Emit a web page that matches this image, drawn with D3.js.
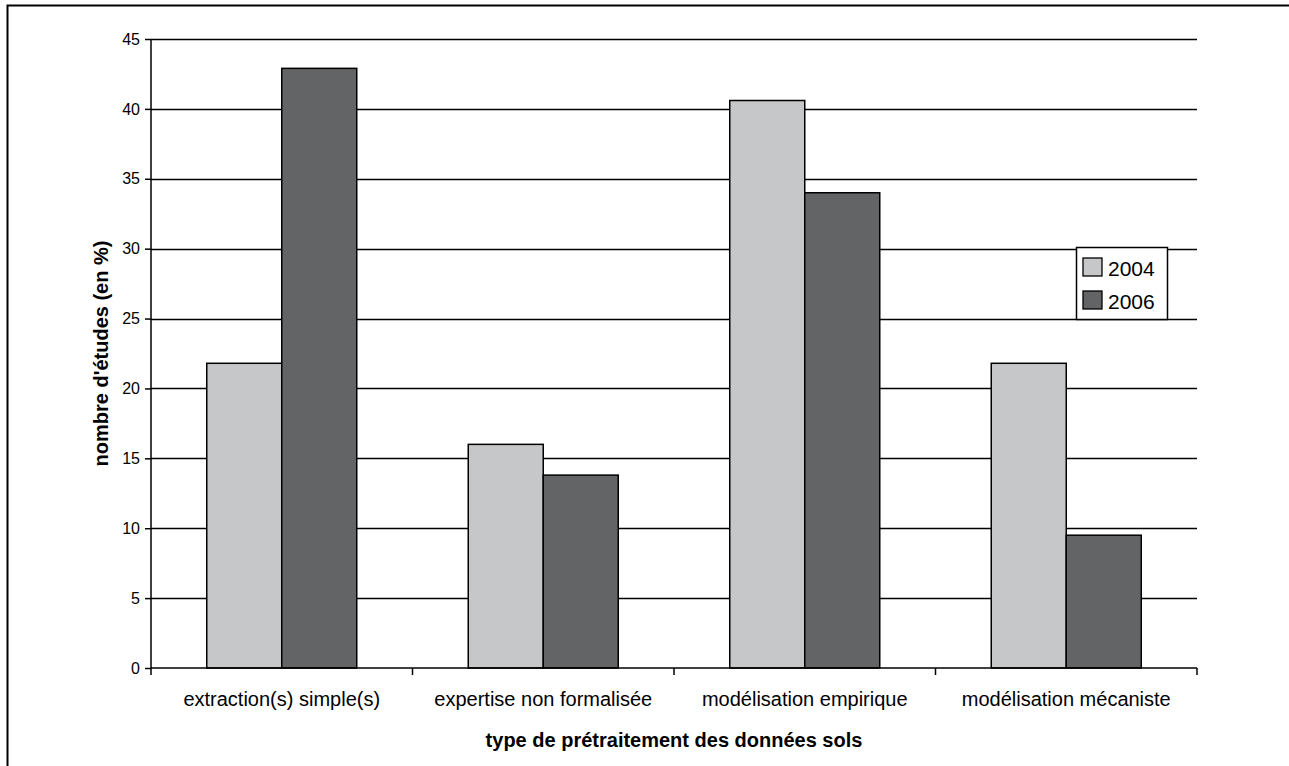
<!DOCTYPE html>
<html>
<head>
<meta charset="utf-8">
<script src="https://cdn.jsdelivr.net/npm/d3@7"></script>
<style>
  html, body { margin: 0; padding: 0; background: #fff; }
  svg { display: block; font-family: Arial, "Liberation Sans", sans-serif; }
</style>
</head>
<body>
<svg id="chart" width="1289" height="766"></svg>
<script>
// Categories of soil-data preprocessing and share of studies (%) per year
const categories = ["extraction(s) simple(s)", "expertise non formalisée", "modélisation empirique", "modélisation mécaniste"];
const years = ["2004", "2006"];
const values2004 = [21.8, 16.0, 40.6, 21.8];
const values2006 = [42.9, 13.8, 34.0, 9.5];
const yTicks = [0, 5, 10, 15, 20, 25, 30, 35, 40, 45];
const colors = ["#c6c7c9", "#636466"];

const FONT = "Arial, 'Liberation Sans', sans-serif";
const svg = d3.select("#chart");
const margin = { left: 151, right: 1197, top: 39, bottom: 668 };

// Outer frame (extends past the right and bottom edges)
svg.append("rect")
  .attr("x", 7.5).attr("y", 5.5)
  .attr("width", 1300).attr("height", 800)
  .attr("fill", "none").attr("stroke", "#000").attr("stroke-width", 2);

const x = d3.scaleBand().domain(categories).range([margin.left, margin.right]).paddingInner(0).paddingOuter(0);
const x1 = d3.scaleBand().domain(years).range([0, 150]);
const y = d3.scaleLinear().domain([0, 45]).range([margin.bottom, margin.top]);

// Horizontal gridlines
svg.append("g")
  .selectAll("line")
  .data(yTicks.filter(d => d > 0))
  .join("line")
  .attr("x1", margin.left).attr("x2", margin.right)
  .attr("y1", d => Math.round(y(d)) + 0.5).attr("y2", d => Math.round(y(d)) + 0.5)
  .attr("stroke", "#000").attr("stroke-width", 1.3);

// Bars
const rows = categories.map((c, i) => ({ cat: c, vals: [values2004[i], values2006[i]] }));
const groups = svg.append("g").selectAll("g")
  .data(rows)
  .join("g")
  .attr("transform", d => `translate(${x(d.cat) + (x.bandwidth() - 150) / 2},0)`);
groups.selectAll("rect")
  .data(d => d.vals.map((v, j) => ({ year: years[j], v, j })))
  .join("rect")
  .attr("x", d => x1(d.year))
  .attr("width", x1.bandwidth())
  .attr("y", d => y(d.v))
  .attr("height", d => y(0) - y(d.v))
  .attr("fill", d => colors[d.j])
  .attr("stroke", "#000").attr("stroke-width", 1.5);

// Y axis
const yAxis = svg.append("g")
  .attr("transform", `translate(${margin.left},0)`)
  .call(d3.axisLeft(y).tickValues(yTicks).tickSize(6).tickPadding(5).tickFormat(d3.format("d")));
yAxis.selectAll("path, line").attr("stroke", "#000").attr("stroke-width", 1.5);
yAxis.select(".domain").attr("d", `M0,${margin.bottom}V${margin.top}`);
yAxis.selectAll("text").attr("font-size", 16).attr("fill", "#000").attr("font-family", FONT);

// X axis
const xAxis = svg.append("g")
  .attr("transform", `translate(0,${margin.bottom})`)
  .call(d3.axisBottom(x).tickSize(0).tickPadding(24));
xAxis.select(".domain").attr("stroke", "#000").attr("stroke-width", 1.5)
  .attr("d", `M${margin.left},0H${margin.right}`);
xAxis.selectAll("text").attr("font-size", 20).attr("fill", "#000").attr("font-family", FONT);
// Category separator ticks
const sepTicks = categories.map(c => x(c)).concat([margin.right]);
xAxis.selectAll(".sep")
  .data(sepTicks)
  .join("line")
  .attr("class", "sep")
  .attr("x1", d => d).attr("x2", d => d)
  .attr("y1", 0).attr("y2", 7)
  .attr("stroke", "#000").attr("stroke-width", 1.5);

// Axis titles
svg.append("text")
  .attr("x", (margin.left + margin.right) / 2).attr("y", 747)
  .attr("text-anchor", "middle")
  .attr("font-family", FONT)
  .attr("font-size", 20).attr("font-weight", "bold")
  .text("type de prétraitement des données sols");
svg.append("text")
  .attr("transform", `translate(108,${(margin.top + margin.bottom) / 2}) rotate(-90)`)
  .attr("text-anchor", "middle")
  .attr("font-family", FONT)
  .attr("font-size", 20).attr("font-weight", "bold")
  .text("nombre d'études (en %)");

// Legend
const legend = svg.append("g").attr("transform", "translate(1076.5,247.5)");
legend.append("rect").attr("width", 91).attr("height", 72)
  .attr("fill", "#fff").attr("stroke", "#000").attr("stroke-width", 1.5);
const items = legend.selectAll(".item")
  .data(years)
  .join("g")
  .attr("class", "item")
  .attr("transform", (d, i) => `translate(6.5,${10.5 + i * 33})`);
items.append("rect").attr("width", 19).attr("height", 18)
  .attr("fill", (d, i) => colors[i]).attr("stroke", "#000").attr("stroke-width", 1.3);
items.append("text").attr("x", 25).attr("y", 18)
  .attr("font-family", FONT)
  .attr("font-size", 21).text(d => d);
</script>
</body>
</html>
